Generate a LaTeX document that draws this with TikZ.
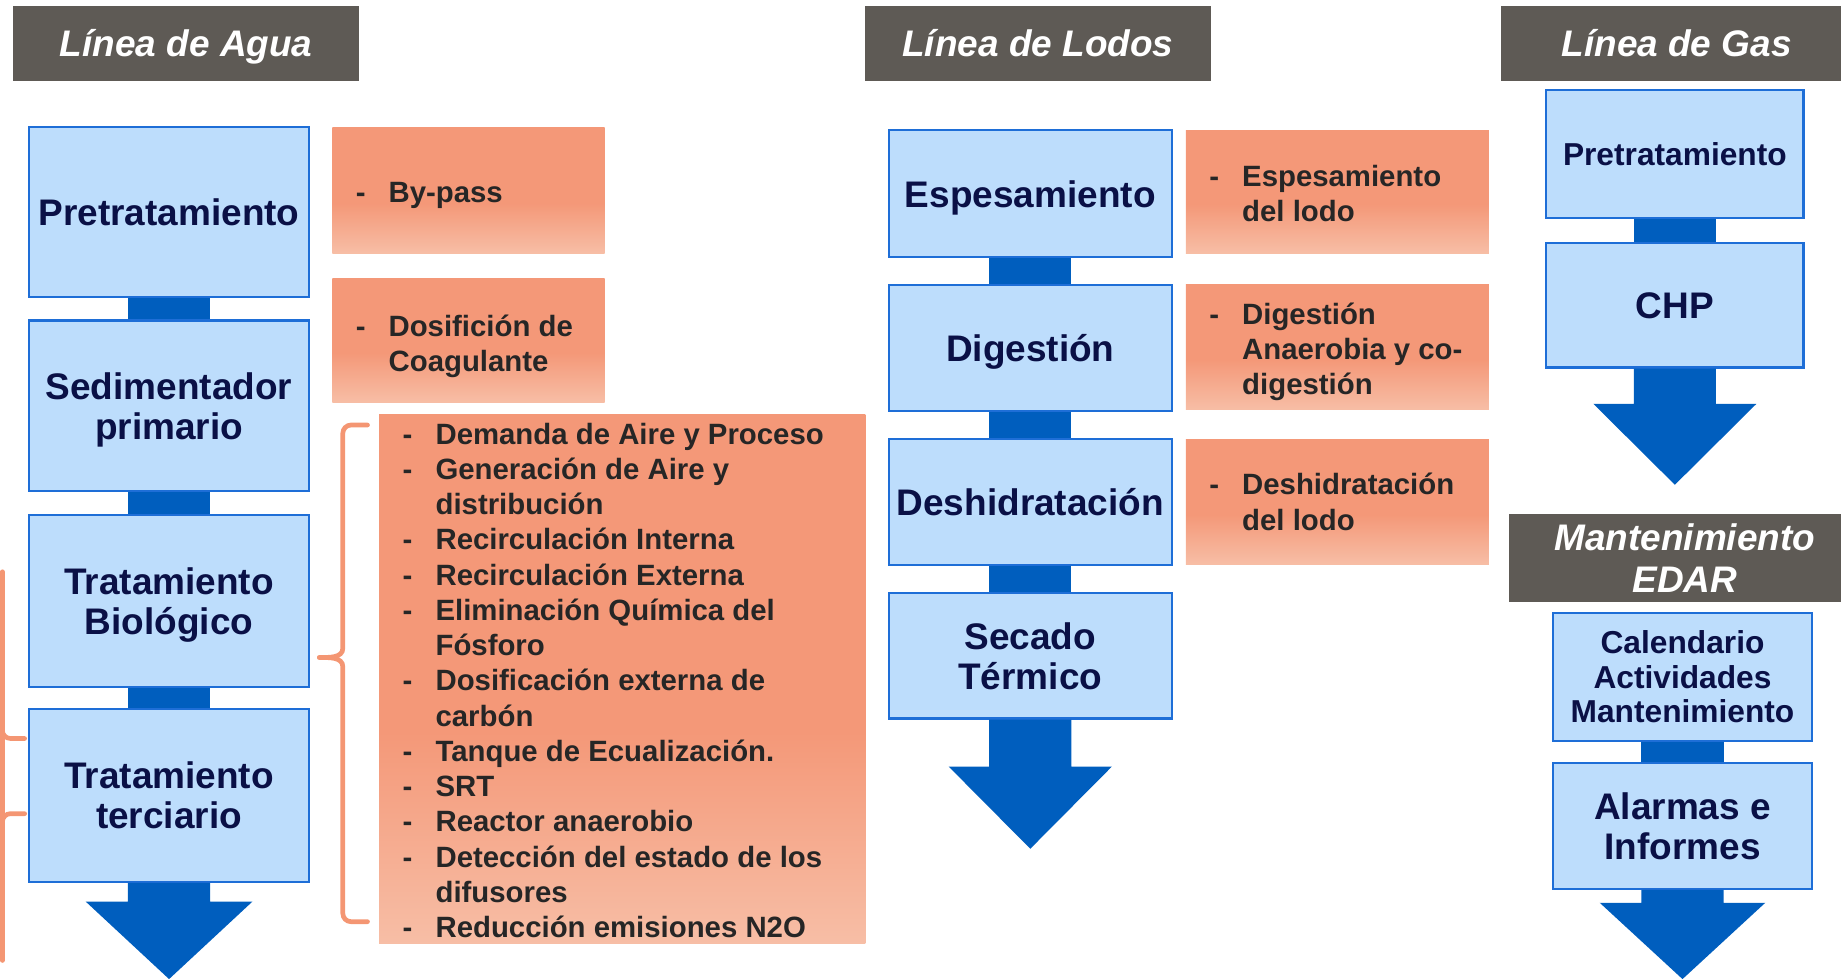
\documentclass[tikz,border=0pt]{standalone}
\usepackage{fontspec}
\setmainfont{Liberation Sans}
\usetikzlibrary{calc}
\definecolor{hdr}{RGB}{94,90,85}
\definecolor{boxfill}{RGB}{189,221,252}
\definecolor{boxline}{RGB}{30,110,215}
\definecolor{flowblue}{RGB}{0,94,190}
\definecolor{navy}{RGB}{10,16,70}
\definecolor{orng}{RGB}{244,152,120}
\definecolor{orngl}{RGB}{247,190,166}
\definecolor{otext}{RGB}{38,38,38}
\definecolor{bracec}{RGB}{244,150,115}
\pgfdeclareverticalshading{orshade}{100bp}{color(0bp)=(orngl); color(25bp)=(orngl); color(45bp)=(orng); color(75bp)=(orng); color(100bp)=(orng)}
\newcommand{\dsh}{\makebox[14pt][l]{-}}
\newcommand{\ind}{\hspace*{14pt}}
\newcommand{\flowarrow}[4]{\fill[flowblue] (#1.south) ++(-35,0) -- ++(0,#2) -- ++(35-#3,0) -- ++(#3,#4) -- ++(#3,-#4) -- ++(35-#3,0) -- ++(0,-#2) -- cycle;}
\tikzset{
 sz/.style 2 args={minimum width=#1*0.5pt, minimum height=#2*0.5pt},
 hdrbox/.style={fill=hdr, text=white, font=\fontsize{15.75}{18}\selectfont\bfseries\itshape, align=center, inner sep=0pt, text depth=0pt},
 bluebox/.style={fill=boxfill, draw=boxline, line width=0.9pt, text=navy, font=\fontsize{15.75}{17}\selectfont\bfseries, align=center, inner sep=0pt, text depth=0pt},
 smallblue/.style={bluebox, font=\fontsize{13.5}{14.75}\selectfont\bfseries},
 orangebox/.style={shading=orshade, draw=none, inner sep=0pt},
 olist/.style={text=otext, font=\fontsize{12.5}{15}\selectfont\bfseries, align=left, inner sep=0pt, anchor=west},
 link/.style={draw=flowblue, line width=35pt},
 brace/.style={draw=bracec, line width=2pt, line cap=round},
}
\begin{document}
\begin{tikzpicture}[x=0.5pt,y=-0.5pt]
\useasboundingbox (0,0) rectangle (1568,833);
\clip (0,0) rectangle (1568,833);
% headers
\node[hdrbox, sz={295}{64}] (hA) at (158.5,37) {Línea de Agua};
\node[hdrbox, sz={294}{64}] (hL) at (884,37) {Línea de Lodos};
\node[hdrbox, sz={300}{64}] (hG) at (1428,37) {Línea de Gas};
\node[hdrbox, sz={300}{75}] (hM) at (1435,475.5) {Mantenimiento\\EDAR};
% water line
\node[bluebox, sz={238}{145}] (pre) at (144,180.5) {Pretratamiento};
\node[bluebox, sz={238}{145}] (sed) at (144,345.5) {Sedimentador\\primario};
\node[bluebox, sz={238}{146}] (bio) at (144,512) {Tratamiento\\Biológico};
\node[bluebox, sz={238}{147}] (ter) at (144,677.5) {Tratamiento\\terciario};
% sludge line
\node[bluebox, sz={241}{108}] (esp) at (877.5,165) {Espesamiento};
\node[bluebox, sz={241}{107}] (dig) at (877.5,296.5) {Digestión};
\node[bluebox, sz={241}{107}] (des) at (877.5,427.5) {Deshidratación};
\node[bluebox, sz={241}{107}] (sec) at (877.5,558.5) {Secado\\Térmico};
% gas line
\node[smallblue, sz={219}{109}] (gpre) at (1426.5,131.5) {Pretratamiento};
\node[bluebox, sz={219}{106}] (chp) at (1426.5,260) {CHP};
% maintenance
\node[smallblue, sz={220}{109}] (cal) at (1433,576.5) {Calendario\\Actividades\\Mantenimiento};
\node[bluebox, sz={220}{107}] (alm) at (1433,703.5) {Alarmas e\\Informes};
% links
\draw[link] (pre.south) -- (sed.north);
\draw[link] (sed.south) -- (bio.north);
\draw[link] (bio.south) -- (ter.north);
\draw[link] (esp.south) -- (dig.north);
\draw[link] (dig.south) -- (des.north);
\draw[link] (des.south) -- (sec.north);
\draw[link] (gpre.south) -- (chp.north);
\draw[link] (cal.south) -- (alm.north);
% big down arrows
\flowarrow{ter}{16}{71}{66}
\flowarrow{sec}{40}{69.5}{70}
\flowarrow{chp}{30}{69.5}{69}
\flowarrow{alm}{11}{70.5}{65}
% orange boxes
\node[orangebox, sz={232}{107}] (o1) at (399,162.5) {};
\node[orangebox, sz={232}{106}] (o2) at (399,290) {};
\node[orangebox, sz={414}{451}] (o3) at (530,578.5) {};
\node[orangebox, sz={258}{105}] (o4) at (1139,163.5) {};
\node[orangebox, sz={258}{107}] (o5) at (1139,295.5) {};
\node[orangebox, sz={258}{107}] (o6) at (1139,427.5) {};
\node[olist] (t1) at ($(o1.west)+(20,4)$) {\dsh By-pass};
\node[olist] (t2) at ($(o2.west)+(20,5)$) {\dsh Dosifición de\\\ind Coagulante};
\node[olist] (t3) at ($(o3.west)+(20,1)$) {\dsh Demanda de Aire y Proceso\\
\dsh Generación de Aire y\\
\ind distribución\\
\dsh Recirculación Interna\\
\dsh Recirculación Externa\\
\dsh Eliminación Química del\\
\ind Fósforo\\
\dsh Dosificación externa de\\
\ind carbón\\
\dsh Tanque de Ecualización.\\
\dsh SRT\\
\dsh Reactor anaerobio\\
\dsh Detección del estado de los\\
\ind difusores\\
\dsh Reducción emisiones N2O};
\node[olist] (t4) at ($(o4.west)+(20,1)$) {\dsh Espesamiento\\\ind del lodo};
\node[olist] (t5) at ($(o5.west)+(20,4)$) {\dsh Digestión\\\ind Anaerobia y co-\\\ind digestión};
\node[olist] (t6) at ($(o6.west)+(20,0)$) {\dsh Deshidratación\\\ind del lodo};
% braces
\draw[brace] (313,362) -- (299,362) to[out=180,in=90] (292,369) -- (292,552) to[out=-90,in=0] (272,560);
\draw[brace] (313,785) -- (299,785) to[out=180,in=-90] (292,778) -- (292,568) to[out=90,in=0] (272,560);
\draw[brace] (2,487) -- (2,818);
\draw[brace] (2,622) to[out=-90,in=180] (9,629) -- (21,629);
\draw[brace] (2,700) to[out=90,in=180] (9,693) -- (21,693);
\end{tikzpicture}
\end{document}
